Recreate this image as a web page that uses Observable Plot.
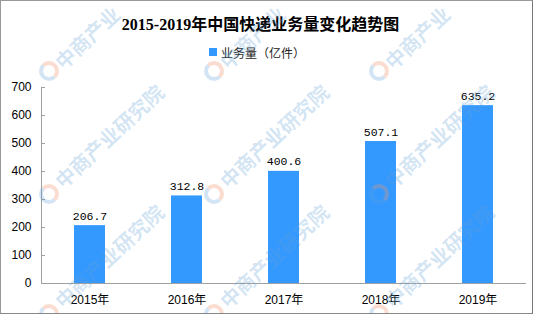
<!DOCTYPE html>
<html>
<head>
<meta charset="utf-8">
<script src="https://cdn.jsdelivr.net/npm/d3@7"></script>
<script src="https://cdn.jsdelivr.net/npm/@observablehq/plot@0.6"></script>
<style>
  html, body { margin: 0; padding: 0; background: #fff; }
  #wrap { position: relative; width: 533px; height: 314px; overflow: hidden; background: #fff; }
  #chart { position: absolute; left: 0; top: 0; }
  #title { position: absolute; left: 0; width: 521px; top: 15px; text-align: center;
    font: bold 16px "Liberation Serif", "Noto Sans CJK SC", serif; color: #000; line-height: 20px; }
  #legend { position: absolute; left: 209px; top: 44px; height: 16px; display: flex; align-items: center;
    font: 12px "Noto Sans CJK SC", sans-serif; color: #222; }
  #legend .sw { width: 8px; height: 8px; background: #3399ff; margin-right: 4px; }
  .wm { position: absolute; font: bold 20px "Noto Sans CJK SC", sans-serif; color: rgba(100,160,215,0.28);
    line-height: 20px; white-space: nowrap; transform-origin: 0 50%; transform: rotate(-43deg); pointer-events: none; }
  .logo { position: absolute; width: 12px; height: 12px; border-radius: 50%; border: 4px solid rgba(100,160,215,0.28);
    border-top-color: rgba(240,150,110,0.32); border-right-color: rgba(240,150,110,0.32); pointer-events: none; }
  #border { position: absolute; left: 0; top: 0; width: 533px; height: 314px; box-sizing: border-box;
    border: 1px solid #999; border-right-color: #777; border-bottom-color: #888; pointer-events: none; }
</style>
</head>
<body>
<div id="wrap">
  <div id="chart"></div>
  <div id="title">2015-2019年中国快递业务量变化趋势图</div>
  <div id="legend"><div class="sw"></div><span>业务量（亿件）</span></div>
  <div id="wms"></div>
  <div id="border"></div>
</div>
<script>
const years = ["2015", "2016", "2017", "2018", "2019"];
const values = [206.7, 312.8, 400.6, 507.1, 635.2];
const yTicks = [0, 100, 200, 300, 400, 500, 600, 700];
const seriesName = "业务量（亿件）";
const watermarkText = "中商产业研究院";
const watermarkTextTop = "中商产业";

const data = years.map((year, i) => ({year, value: values[i]}));

const chart = Plot.plot({
  width: 533,
  height: 314,
  marginLeft: 41,
  marginRight: 7,
  marginTop: 87,
  marginBottom: 31,
  style: {fontFamily: "Liberation Sans, Arial, sans-serif", fontSize: "12px", color: "#000", background: "transparent", overflow: "visible"},
  x: {domain: years, paddingInner: 0.68, paddingOuter: 0.34},
  y: {domain: [0, 700]},
  marks: [
    Plot.barY(data, {x: "year", y: "value", fill: "#3399ff"}),
    Plot.text(data, {x: "year", y: "value", text: d => d.value.toFixed(1), lineAnchor: "bottom", dy: -6,
      fontFamily: "Liberation Mono, monospace", fontSize: 11.5, fill: "#000"}),
    Plot.ruleY([0], {stroke: "#a0a0a0"}),
    Plot.frame({anchor: "left", stroke: "#a0a0a0"}),
    Plot.axisY({ticks: yTicks, tickSize: -4, tickPadding: 14, stroke: "#a0a0a0", fill: "#000", label: null, tickFormat: d => String(d)}),
    Plot.axisX({tickSize: 0, tickPadding: 12, tickFormat: d => d + "年", label: null, fill: "#000",
      fontFamily: "Liberation Sans, Noto Sans CJK SC, sans-serif"})
  ]
});
document.getElementById("chart").appendChild(chart);

// decorative watermark overlay
const wmCols = [49, 214, 379];
const wmRows = [71, 194, 314];
const wms = document.getElementById("wms");
wmRows.forEach((cy, ri) => {
  for (const cx of wmCols) {
    const logo = document.createElement("div");
    logo.className = "logo";
    logo.style.left = (cx - 10) + "px";
    logo.style.top = (cy - 10) + "px";
    wms.appendChild(logo);
    const t = document.createElement("div");
    t.className = "wm";
    t.textContent = ri === 0 ? watermarkTextTop : watermarkText;
    t.style.left = (cx + 9) + "px";
    t.style.top = (cy - (ri === 0 ? 16 : 20)) + "px";
    wms.appendChild(t);
  }
});
</script>
</body>
</html>
